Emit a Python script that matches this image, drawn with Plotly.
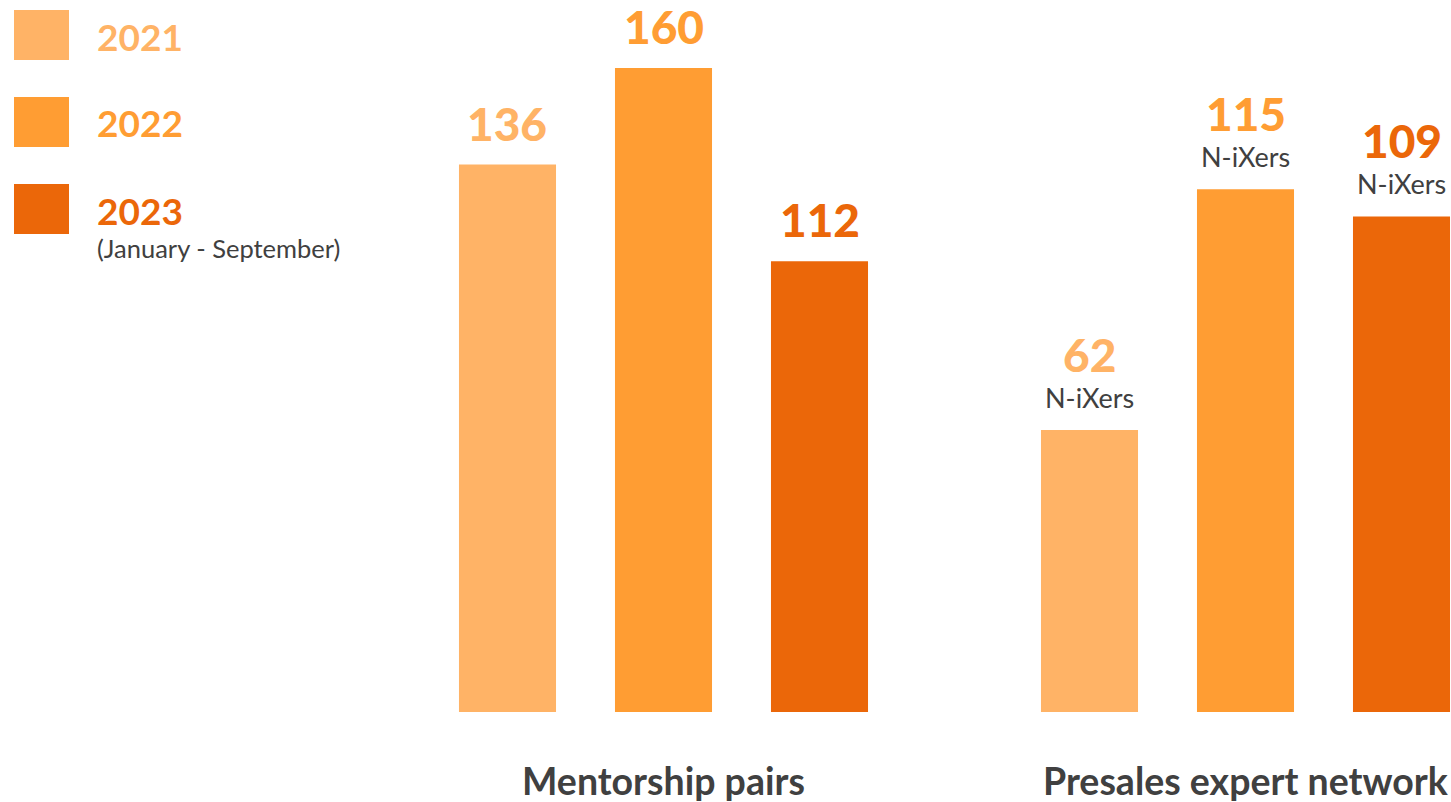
import plotly.graph_objects as go

years = ["2021", "2022", "2023"]
mentorship = [136, 160, 112]
presales = [62, 115, 109]
colors = ["#FFB366", "#FF9D33", "#EB6709"]
group_titles = ["Mentorship pairs", "Presales expert network"]
unit_label = "N-iXers"
legend_note = "(January - September)"

W, H = 1451, 802
PLOT_H = 712
DARK = "#404040"
FONT = "Lato"

fig = go.Figure()
fig.add_trace(go.Bar(x=years, y=mentorship, marker_color=colors, marker_line_width=0,
                     xaxis="x", yaxis="y", showlegend=False, hoverinfo="x+y"))
fig.add_trace(go.Bar(x=years, y=presales, marker_color=colors, marker_line_width=0,
                     xaxis="x2", yaxis="y2", showlegend=False, hoverinfo="x+y"))

ann = []
for i, v in enumerate(mentorship):
    ann.append(dict(x=i, y=v, xref="x", yref="y", text=f"{v}", showarrow=False,
                    yanchor="bottom", yshift=12,
                    font=dict(family=FONT, size=46, color=colors[i], weight=900)))
for i, v in enumerate(presales):
    ann.append(dict(x=i, y=v, xref="x2", yref="y2", text=unit_label, showarrow=False,
                    yanchor="bottom", yshift=14, font=dict(family=FONT, size=27, color=DARK)))
    ann.append(dict(x=i, y=v, xref="x2", yref="y2", text=f"{v}", showarrow=False,
                    yanchor="bottom", yshift=46,
                    font=dict(family=FONT, size=46, color=colors[i], weight=900)))
for xr, t in zip(["x", "x2"], group_titles):
    ann.append(dict(x=1, y=0, xref=xr, yref="paper", text=f"<b>{t}</b>", showarrow=False,
                    yanchor="middle", yshift=-68, font=dict(family=FONT, size=37.5, color=DARK)))

shapes = []
legend_tops = [10, 97, 184]
for i, yr in enumerate(years):
    t = legend_tops[i]
    shapes.append(dict(type="rect", xref="paper", yref="paper",
                       x0=14 / W, x1=69 / W,
                       y0=1 - (t + 50) / PLOT_H, y1=1 - t / PLOT_H,
                       fillcolor=colors[i], line_width=0))
    ann.append(dict(x=95 / W, y=1 - (t + 26) / PLOT_H, xref="paper", yref="paper",
                    text=f"<b>{yr}</b>", showarrow=False, xanchor="left", yanchor="middle",
                    font=dict(family=FONT, size=37, color=colors[i])))
ann.append(dict(x=95 / W, y=1 - 248 / PLOT_H, xref="paper", yref="paper",
                text=legend_note, showarrow=False, xanchor="left", yanchor="middle",
                font=dict(family=FONT, size=25.5, color=DARK)))

hidden = dict(showticklabels=False, showgrid=False, zeroline=False, showline=False, ticks="")
right_end = -0.5 + (W - 1011.5) / 156
fig.update_layout(
    width=W, height=H,
    margin=dict(l=0, r=0, t=0, b=H - PLOT_H),
    paper_bgcolor="white", plot_bgcolor="white",
    bargap=0.378,
    xaxis=dict(type="category", domain=[429.5 / W, 897.5 / W], range=[-0.5, 2.5], **hidden),
    xaxis2=dict(type="category", domain=[1011.5 / W, 1.0], range=[-0.5, right_end], anchor="y2", **hidden),
    yaxis=dict(domain=[0, 1], range=[0, 176.9], **hidden),
    yaxis2=dict(domain=[0, 1], range=[0, 156.6], anchor="x2", overlaying="y", **hidden),
    annotations=ann, shapes=shapes,
    font=dict(family=FONT),
)
fig.write_html("out.html", config={"displayModeBar": False},
               post_script="document.body.style.margin='0';document.body.style.overflow='hidden';")
